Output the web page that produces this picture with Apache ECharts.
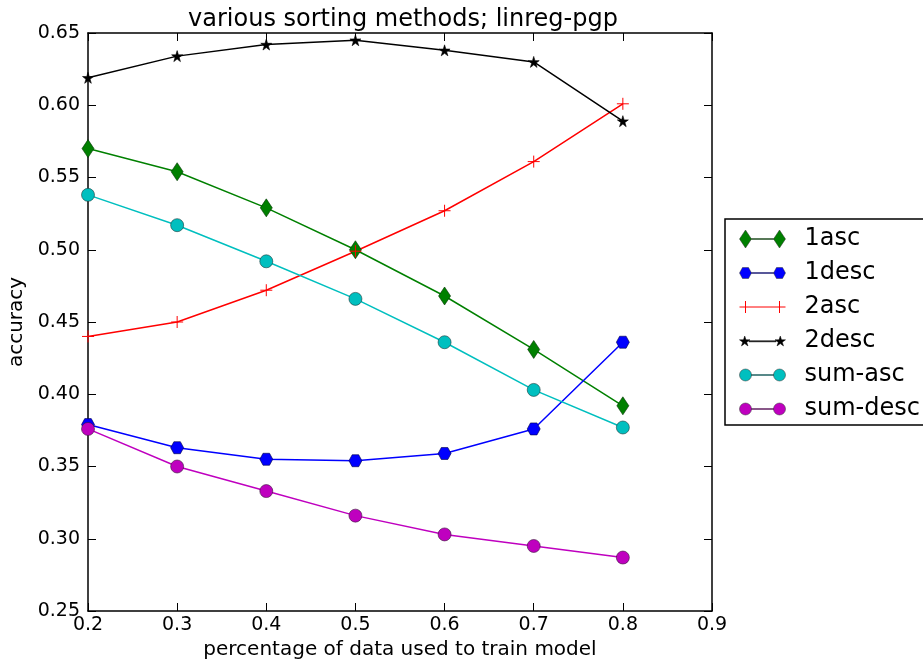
<!DOCTYPE html>
<html lang="en">
<head>
    <meta charset="UTF-8">
    <title>various sorting methods; linreg-pgp</title>
    <style>
        html, body { margin: 0; padding: 0; background: #fff; }
        #chart { width: 923px; height: 661px; }
    </style>
    <script src="https://cdn.jsdelivr.net/npm/echarts@6/dist/echarts.min.js"></script>
</head>
<body>
    <div id="chart"></div>
</body>
<script>
    var mCharts = echarts.init(document.getElementById('chart'));

    // x values (fraction of data used for training)
    var xData = [0.2, 0.3, 0.4, 0.5, 0.6, 0.7, 0.8];
    // accuracy per sorting method
    var asc1    = [0.570, 0.554, 0.529, 0.500, 0.468, 0.431, 0.392];
    var desc1   = [0.379, 0.363, 0.355, 0.354, 0.359, 0.376, 0.436];
    var asc2    = [0.440, 0.450, 0.472, 0.499, 0.527, 0.561, 0.601];
    var desc2   = [0.619, 0.634, 0.642, 0.645, 0.638, 0.630, 0.589];
    var sumAsc  = [0.538, 0.517, 0.492, 0.466, 0.436, 0.403, 0.377];
    var sumDesc = [0.376, 0.350, 0.333, 0.316, 0.303, 0.295, 0.287];

    var names = ['1asc', '1desc', '2asc', '2desc', 'sum-asc', 'sum-desc'];

    function pairs(ys) {
        return xData.map(function (x, i) { return [x, ys[i]]; });
    }

    var FONT = 'DejaVu Sans';
    var hexPath = 'path://M0,5 L2.9,0 L8.7,0 L11.6,5 L8.7,10 L2.9,10 Z';
    var starPath = 'path://M50,0 L61,35 L98,35 L68,57 L79,91 L50,70 L21,91 L32,57 L2,35 L39,35 Z';
    var plusPath = 'path://M5,0 L5,10 M0,5 L10,5';

    // legend icons: marker - line - marker
    var legIcons = {
        '1asc': 'path://M0,9 L6,0 L12,9 L6,18 Z M12,8.5 L34,8.5 L34,9.5 L12,9.5 Z M34,9 L40,0 L46,9 L40,18 Z',
        '1desc': 'path://M0,9 L3,3.5 L9,3.5 L12,9 L9,14.5 L3,14.5 Z M12,8.5 L34,8.5 L34,9.5 L12,9.5 Z M34,9 L37,3.5 L43,3.5 L46,9 L43,14.5 L37,14.5 Z',
        '2asc': 'path://M0,9 L46,9 M6,3 L6,15 M40,3 L40,15',
        '2desc': 'path://M6,4 L7.2,7.6 L11,7.6 L7.9,9.8 L9.1,13.4 L6,11.2 L2.9,13.4 L4.1,9.8 L1,7.6 L4.8,7.6 Z M10,8.5 L36,8.5 L36,9.5 L10,9.5 Z M40,4 L41.2,7.6 L45,7.6 L41.9,9.8 L43.1,13.4 L40,11.2 L36.9,13.4 L38.1,9.8 L35,7.6 L38.8,7.6 Z',
        'sum-asc': 'path://M0,9 A6,6 0 1 1 12,9 A6,6 0 1 1 0,9 Z M12,8.5 L34,8.5 L34,9.5 L12,9.5 Z M34,9 A6,6 0 1 1 46,9 A6,6 0 1 1 34,9 Z',
        'sum-desc': 'path://M0,9 A6,6 0 1 1 12,9 A6,6 0 1 1 0,9 Z M12,8.5 L34,8.5 L34,9.5 L12,9.5 Z M34,9 A6,6 0 1 1 46,9 A6,6 0 1 1 34,9 Z'
    };

    var colors = {
        '1asc': '#008000', '1desc': '#0000ff', '2asc': '#ff0000',
        '2desc': '#000000', 'sum-asc': '#00bfbf', 'sum-desc': '#bf00bf'
    };

    function makeSeries(name, ys, symbol, size, edge) {
        var color = colors[name];
        return {
            name: name,
            type: 'line',
            data: pairs(ys),
            symbol: symbol,
            symbolSize: size,
            showAllSymbol: true,
            clip: true,
            lineStyle: { color: color, width: 1.5 },
            itemStyle: { color: color, borderColor: edge, borderWidth: symbol === plusPath ? 1 : 0.6 },
            emphasis: { disabled: true },
            z: 3
        };
    }

    var series = [
        makeSeries('1asc', asc1, 'diamond', [12, 18], '#003300'),
        makeSeries('1desc', desc1, hexPath, [13, 12], '#000040'),
        makeSeries('2asc', asc2, plusPath, [12, 12], '#ff0000'),
        makeSeries('2desc', desc2, starPath, [11, 11], '#000000'),
        makeSeries('sum-asc', sumAsc, 'circle', 13, '#1a3a3a'),
        makeSeries('sum-desc', sumDesc, 'circle', 13, '#3a1a3a')
    ];

    var tickStyle = { show: true, inside: true, length: 8, lineStyle: { color: '#000', width: 1 } };
    var lineStyle = { show: true, onZero: false, lineStyle: { color: '#000', width: 1.5 } };

    var option = {
        backgroundColor: '#fff',
        animation: false,
        title: {
            text: 'various sorting methods; linreg-pgp',
            left: 398,
            top: 3,
            textAlign: 'center',
            textStyle: { fontFamily: FONT, fontSize: 24, fontWeight: 'normal', color: '#000' }
        },
        grid: { left: 88, top: 33, width: 624, height: 578, outerBoundsMode: 'none' },
        legend: {
            orient: 'vertical',
            left: 725,
            top: 219,
            padding: [8, 40, 4, 12],
            itemWidth: 46,
            itemHeight: 18,
            itemGap: 10,
            borderColor: '#000',
            borderWidth: 1.5,
            backgroundColor: '#fff',
            textStyle: { fontFamily: FONT, fontSize: 24, color: '#000', padding: [0, 0, 0, 14], lineHeight: 24 },
            data: names.map(function (n) {
                return {
                    name: n,
                    icon: legIcons[n],
                    itemStyle: n === '2asc'
                        ? { color: 'none', borderColor: colors[n], borderWidth: 1 }
                        : { color: colors[n], borderColor: n === '2desc' ? '#000' : '#333', borderWidth: 0.5 }
                };
            }),
            selectedMode: false
        },
        xAxis: [{
            type: 'value',
            min: 0.2,
            max: 0.9,
            interval: 0.1,
            position: 'bottom',
            name: 'percentage of data used to train model',
            nameLocation: 'middle',
            nameGap: 27,
            nameTextStyle: { fontFamily: FONT, fontSize: 20, color: '#000' },
            axisLine: lineStyle,
            axisTick: tickStyle,
            axisLabel: {
                fontFamily: FONT, fontSize: 19, color: '#000', margin: 5,
                formatter: function (v) { return v.toFixed(1); }
            },
            splitLine: { show: false }
        }, {
            type: 'value',
            min: 0.2,
            max: 0.9,
            interval: 0.1,
            position: 'top',
            axisLine: lineStyle,
            axisTick: tickStyle,
            axisLabel: { show: false },
            splitLine: { show: false }
        }],
        yAxis: [{
            type: 'value',
            min: 0.25,
            max: 0.65,
            interval: 0.05,
            position: 'left',
            name: 'accuracy',
            nameLocation: 'middle',
            nameGap: 60,
            nameTextStyle: { fontFamily: FONT, fontSize: 20, color: '#000' },
            axisLine: lineStyle,
            axisTick: tickStyle,
            axisLabel: {
                fontFamily: FONT, fontSize: 19, color: '#000', margin: 8,
                formatter: function (v) { return v.toFixed(2); }
            },
            splitLine: { show: false }
        }, {
            type: 'value',
            min: 0.25,
            max: 0.65,
            interval: 0.05,
            position: 'right',
            axisLine: lineStyle,
            axisTick: tickStyle,
            axisLabel: { show: false },
            splitLine: { show: false }
        }],
        series: series
    };

    mCharts.setOption(option);
</script>
</html>
